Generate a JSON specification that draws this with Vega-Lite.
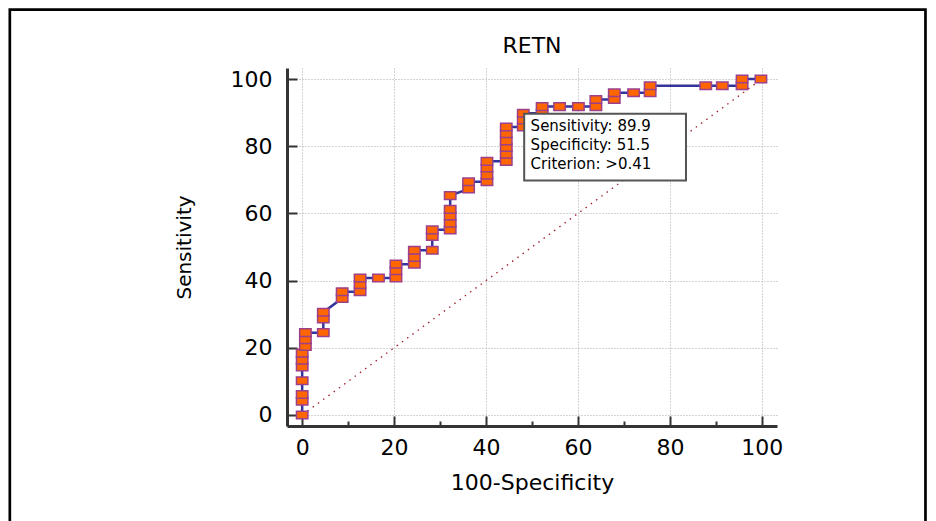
{
  "$schema": "https://vega.github.io/schema/vega-lite/v6.json",
  "width": 490,
  "height": 358,
  "autosize": "none",
  "padding": {"left": 287, "top": 68, "right": 159, "bottom": 95},
  "background": "white",
  "config": {"view": {"stroke": null}, "font": "DejaVu Sans"},
  "datasets": {
    "roc": [
      {"i": 1, "fpr": 0, "sens": 0},
      {"i": 2, "fpr": 0, "sens": 4.1},
      {"i": 3, "fpr": 0, "sens": 6.1},
      {"i": 4, "fpr": 0, "sens": 10.2},
      {"i": 5, "fpr": 0, "sens": 14.3},
      {"i": 6, "fpr": 0, "sens": 16.3},
      {"i": 7, "fpr": 0, "sens": 18.4},
      {"i": 8, "fpr": 0.7, "sens": 20.4},
      {"i": 9, "fpr": 0.7, "sens": 22.4},
      {"i": 10, "fpr": 0.7, "sens": 24.5},
      {"i": 11, "fpr": 4.6, "sens": 24.5},
      {"i": 12, "fpr": 4.6, "sens": 28.6},
      {"i": 13, "fpr": 4.6, "sens": 30.6},
      {"i": 14, "fpr": 8.7, "sens": 34.7},
      {"i": 15, "fpr": 8.7, "sens": 36.7},
      {"i": 16, "fpr": 12.6, "sens": 36.7},
      {"i": 17, "fpr": 12.6, "sens": 38.8},
      {"i": 18, "fpr": 12.6, "sens": 40.8},
      {"i": 19, "fpr": 16.6, "sens": 40.8},
      {"i": 20, "fpr": 20.4, "sens": 40.8},
      {"i": 21, "fpr": 20.4, "sens": 42.9},
      {"i": 22, "fpr": 20.4, "sens": 44.9},
      {"i": 23, "fpr": 24.4, "sens": 44.9},
      {"i": 24, "fpr": 24.4, "sens": 46.9},
      {"i": 25, "fpr": 24.4, "sens": 49.0},
      {"i": 26, "fpr": 28.3, "sens": 49.0},
      {"i": 27, "fpr": 28.3, "sens": 53.1},
      {"i": 28, "fpr": 28.3, "sens": 55.1},
      {"i": 29, "fpr": 32.2, "sens": 55.1},
      {"i": 30, "fpr": 32.2, "sens": 57.1},
      {"i": 31, "fpr": 32.2, "sens": 59.2},
      {"i": 32, "fpr": 32.2, "sens": 61.2},
      {"i": 33, "fpr": 32.2, "sens": 65.3},
      {"i": 34, "fpr": 36.2, "sens": 67.3},
      {"i": 35, "fpr": 36.2, "sens": 69.4},
      {"i": 36, "fpr": 40.2, "sens": 69.4},
      {"i": 37, "fpr": 40.2, "sens": 71.4},
      {"i": 38, "fpr": 40.2, "sens": 73.5},
      {"i": 39, "fpr": 40.2, "sens": 75.5},
      {"i": 40, "fpr": 44.4, "sens": 75.5},
      {"i": 41, "fpr": 44.4, "sens": 77.6},
      {"i": 42, "fpr": 44.4, "sens": 79.6},
      {"i": 43, "fpr": 44.4, "sens": 81.6},
      {"i": 44, "fpr": 44.4, "sens": 83.7},
      {"i": 45, "fpr": 44.4, "sens": 85.7},
      {"i": 46, "fpr": 48.1, "sens": 85.7},
      {"i": 47, "fpr": 48.1, "sens": 87.8},
      {"i": 48, "fpr": 48.1, "sens": 89.8},
      {"i": 49, "fpr": 52.2, "sens": 89.8},
      {"i": 50, "fpr": 52.2, "sens": 91.8},
      {"i": 51, "fpr": 56.0, "sens": 91.8},
      {"i": 52, "fpr": 60.1, "sens": 91.8},
      {"i": 53, "fpr": 63.9, "sens": 91.8},
      {"i": 54, "fpr": 63.9, "sens": 93.9},
      {"i": 55, "fpr": 67.9, "sens": 93.9},
      {"i": 56, "fpr": 67.9, "sens": 95.9},
      {"i": 57, "fpr": 72.1, "sens": 95.9},
      {"i": 58, "fpr": 75.7, "sens": 95.9},
      {"i": 59, "fpr": 75.7, "sens": 98.0},
      {"i": 60, "fpr": 87.8, "sens": 98.0},
      {"i": 61, "fpr": 91.4, "sens": 98.0},
      {"i": 62, "fpr": 95.7, "sens": 98.0},
      {"i": 63, "fpr": 95.7, "sens": 100},
      {"i": 64, "fpr": 99.8, "sens": 100}
    ]
  },
  "layer": [
    {
      "data": {"values": [{}]},
      "mark": {"type": "rect", "fill": null, "stroke": "black", "strokeWidth": 2.7, "clip": false},
      "encoding": {
        "x": {"datum": -63.6, "type": "quantitative", "scale": {"domain": [-3.3, 103.3], "nice": false, "zero": false}},
        "x2": {"datum": 135.6},
        "y": {"datum": 120.7, "type": "quantitative", "scale": {"domain": [-3.3, 103.3], "nice": false, "zero": false}},
        "y2": {"datum": -45}
      }
    },
    {
      "data": {"values": [{}]},
      "mark": {"type": "rule", "color": "#A01C28", "strokeWidth": 1.3, "strokeDash": [1.5, 5]},
      "encoding": {
        "x": {"datum": 0, "type": "quantitative"},
        "x2": {"datum": 100},
        "y": {"datum": 0, "type": "quantitative"},
        "y2": {"datum": 100}
      }
    },
    {
      "data": {"name": "roc"},
      "mark": {"type": "line", "color": "#34349C", "strokeWidth": 2.5},
      "encoding": {
        "x": {
          "field": "fpr", "type": "quantitative",
          "scale": {"domain": [-3.3, 103.3], "nice": false, "zero": false},
          "axis": {
            "title": "100-Specificity",
            "titleFont": "DejaVu Sans", "titleFontSize": 22, "titleFontWeight": "normal", "titleColor": "black", "titlePadding": 9,
            "values": [0, 5, 10, 15, 20, 25, 30, 35, 40, 45, 50, 55, 60, 65, 70, 75, 80, 85, 90, 95, 100],
            "labelExpr": "datum.value % 20 === 0 ? datum.label : ''",
            "labelFont": "DejaVu Sans", "labelFontSize": 22, "labelColor": "black", "labelPadding": 21, "labelOverlap": false, "labelFlush": false,
            "domainColor": "#333333", "domainWidth": 3,
            "tickColor": "#333333", "tickWidth": 2,
            "tickSize": {"condition": {"test": "datum.value % 20 === 0", "value": -10}, "value": -5},
            "grid": true, "gridColor": "#a8a8a8", "gridWidth": 1, "gridDash": [1, 2],
            "gridOpacity": {"condition": {"test": "datum.value % 20 === 0", "value": 1}, "value": 0}
          }
        },
        "y": {
          "field": "sens", "type": "quantitative",
          "scale": {"domain": [-3.3, 103.3], "nice": false, "zero": false},
          "axis": {
            "title": "Sensitivity",
            "titleFont": "DejaVu Sans", "titleFontSize": 20, "titleFontWeight": "normal", "titleColor": "black", "titlePadding": 36,
            "values": [0, 5, 10, 15, 20, 25, 30, 35, 40, 45, 50, 55, 60, 65, 70, 75, 80, 85, 90, 95, 100],
            "labelExpr": "datum.value % 20 === 0 ? datum.label : ''",
            "labelFont": "DejaVu Sans", "labelFontSize": 22, "labelColor": "black", "labelPadding": 25, "labelOverlap": false, "labelFlush": false,
            "domainColor": "#333333", "domainWidth": 3,
            "tickColor": "#333333", "tickWidth": 2,
            "tickSize": {"condition": {"test": "datum.value % 20 === 0", "value": -10}, "value": -5},
            "grid": true, "gridColor": "#a8a8a8", "gridWidth": 1, "gridDash": [1, 2],
            "gridOpacity": {"condition": {"test": "datum.value % 20 === 0", "value": 1}, "value": 0}
          }
        },
        "order": {"field": "i", "type": "quantitative"}
      }
    },
    {
      "data": {"name": "roc"},
      "mark": {"type": "point", "filled": true, "shape": "M-1,-0.66L1,-0.66L1,0.66L-1,0.66Z", "size": 130, "fill": "#FF6600", "stroke": "#9C3F8C", "strokeWidth": 1.5, "opacity": 1},
      "encoding": {
        "x": {"field": "fpr", "type": "quantitative"},
        "y": {"field": "sens", "type": "quantitative"}
      }
    },
    {
      "data": {"values": [{}]},
      "mark": {"type": "rect", "fill": "white", "stroke": "#555555", "strokeWidth": 2},
      "encoding": {
        "x": {"datum": 48.3, "type": "quantitative"},
        "x2": {"datum": 83.5},
        "y": {"datum": 89.7, "type": "quantitative"},
        "y2": {"datum": 69.8}
      }
    },
    {
      "data": {"values": [{}]},
      "mark": {"type": "text", "text": ["Sensitivity: 89.9", "Specificity: 51.5", "Criterion: >0.41"], "align": "left", "baseline": "alphabetic", "font": "DejaVu Sans", "fontSize": 15, "lineHeight": 18.7, "color": "black", "dx": 5.5, "dy": 18.4},
      "encoding": {
        "x": {"datum": 48.5, "type": "quantitative"},
        "y": {"datum": 89.9, "type": "quantitative"}
      }
    },
    {
      "data": {"values": [{}]},
      "mark": {"type": "text", "text": "RETN", "align": "center", "baseline": "alphabetic", "font": "DejaVu Sans", "fontSize": 22, "color": "black", "dy": -15},
      "encoding": {
        "x": {"datum": 50, "type": "quantitative"},
        "y": {"datum": 103.3, "type": "quantitative"}
      }
    }
  ]
}
